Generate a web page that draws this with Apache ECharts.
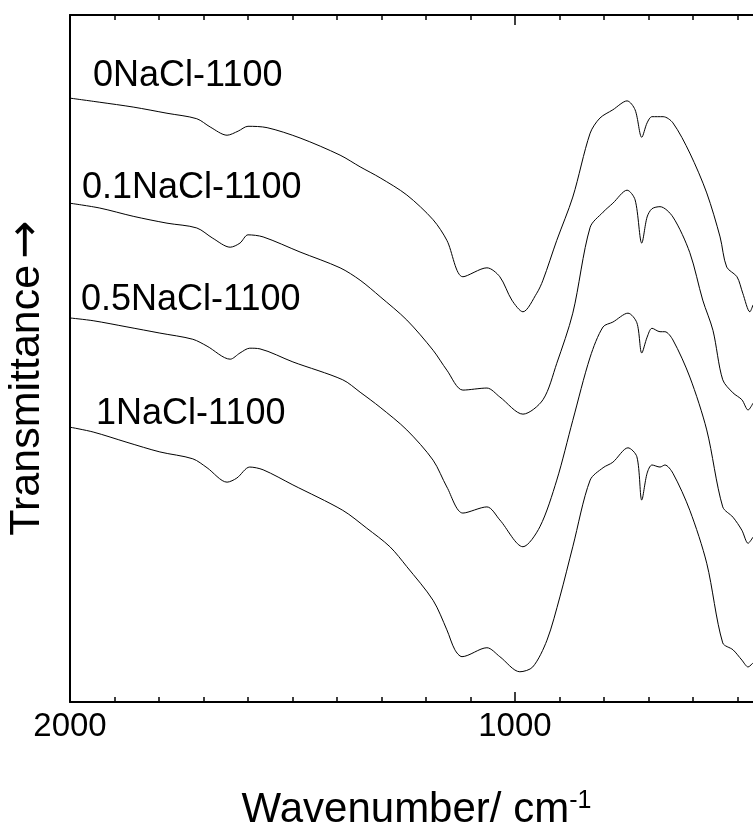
<!DOCTYPE html>
<html>
<head>
<meta charset="utf-8">
<title>FT-IR spectra</title>
<script src="https://cdn.jsdelivr.net/npm/echarts@6/dist/echarts.min.js"></script>
<style>
  html, body { margin: 0; padding: 0; background: #fff; }
  #chart { width: 753px; height: 833px; }
</style>
</head>
<body>
<div id="chart"></div>
<script>
// Sample names, drawn at the start of each spectrum
const sampleNames = ['0NaCl-1100', '0.1NaCl-1100', '0.5NaCl-1100', '1NaCl-1100'];

// Bottom-axis labels and tick positions (cm-1)
const tickLabels = [2000, 1000];
const tickValues = [2000, 1900, 1800, 1700, 1600, 1500, 1400, 1300, 1200, 1100, 1000, 900, 800, 700, 600, 500];
const majorTickValues = [1000];

// 0NaCl-1100: wavenumber (cm-1) and transmittance (offset, arb. units)
const wn0 = [2000, 1933, 1858, 1782, 1715, 1685, 1647, 1622, 1600, 1557, 1483, 1393, 1348, 1303, 1243, 1184, 1153, 1117, 1063, 1034, 1007, 982, 951, 937, 906, 870, 831, 809, 780, 748, 730, 715, 703, 692, 667, 645, 607, 569, 539, 524, 501, 488, 472, 465];
const tr0 = [87.9, 87.3, 86.6, 85.7, 84.9, 83.7, 82.5, 83.1, 83.8, 83.6, 82.1, 79.6, 77.9, 76.3, 73.8, 70.2, 67.2, 61.9, 63.2, 61.9, 58.5, 56.8, 59.5, 61.4, 67.2, 73.5, 82.8, 85.0, 86.2, 87.5, 86.2, 82.2, 84.3, 85.2, 85.2, 84.3, 79.9, 74.1, 67.7, 63.3, 61.9, 59.5, 56.8, 57.8];

// 0.1NaCl-1100
const wn1 = [2000, 1933, 1858, 1782, 1715, 1679, 1640, 1618, 1600, 1566, 1483, 1393, 1348, 1303, 1243, 1184, 1153, 1117, 1063, 1034, 982, 937, 906, 870, 831, 802, 780, 748, 730, 715, 703, 692, 674, 645, 607, 578, 555, 533, 510, 490, 476, 465];
const tr1 = [72.6, 71.9, 70.7, 69.7, 69.0, 67.5, 66.2, 66.8, 68.0, 67.7, 65.5, 63.2, 61.4, 59.0, 55.6, 51.2, 48.3, 45.4, 45.7, 44.4, 41.9, 44.0, 49.3, 56.6, 69.1, 71.3, 72.6, 74.5, 73.1, 66.8, 70.6, 71.8, 72.1, 70.6, 65.4, 58.5, 54.1, 46.9, 45.0, 44.0, 42.5, 43.5];

// 0.5NaCl-1100
const wn2 = [2000, 1948, 1872, 1798, 1724, 1692, 1640, 1618, 1596, 1573, 1499, 1387, 1348, 1303, 1243, 1184, 1153, 1117, 1063, 1034, 982, 944, 906, 870, 831, 802, 780, 746, 726, 715, 703, 692, 674, 663, 645, 607, 569, 533, 510, 490, 476, 465];
const tr2 = [55.9, 55.5, 54.6, 53.7, 52.8, 51.8, 49.9, 50.8, 51.5, 51.4, 49.5, 46.9, 45.1, 42.9, 39.6, 35.2, 31.3, 27.5, 28.4, 26.5, 22.6, 25.5, 32.3, 41.0, 50.2, 54.6, 55.3, 56.6, 55.2, 50.8, 53.1, 54.4, 53.9, 53.9, 52.7, 47.3, 39.6, 28.4, 26.9, 25.0, 23.1, 24.0];

// 1NaCl-1100
const wn3 = [2000, 1948, 1872, 1798, 1724, 1692, 1647, 1625, 1596, 1566, 1499, 1387, 1333, 1281, 1243, 1184, 1153, 1135, 1119, 1063, 1034, 989, 960, 928, 899, 870, 831, 802, 780, 746, 726, 715, 703, 692, 674, 663, 645, 607, 569, 533, 510, 490, 476, 465];
const tr3 = [40.0, 39.3, 37.8, 36.4, 35.4, 34.1, 32.0, 32.6, 34.2, 33.8, 31.6, 27.9, 25.3, 22.6, 19.7, 14.8, 10.5, 7.6, 6.6, 7.9, 6.6, 4.4, 5.1, 9.0, 15.3, 22.6, 32.3, 34.1, 34.9, 37.0, 35.7, 29.4, 33.3, 34.5, 34.2, 34.5, 33.3, 27.9, 20.2, 8.6, 7.6, 6.1, 5.1, 5.7];

const spectra = [[wn0, tr0], [wn1, tr1], [wn2, tr2], [wn3, tr3]];

const FONT = '"Liberation Sans", Arial, Helvetica, sans-serif';
const BLACK = '#000';

const chart = echarts.init(document.getElementById('chart'), null, { renderer: 'canvas' });

function zip(xs, ys) {
  return xs.map((x, i) => [x, ys[i]]);
}

// Shared settings for the frame axes (wavenumber runs right-to-left,
// the frame is cut at the right edge of the page)
const baseX = {
  type: 'value',
  gridIndex: 0,
  min: 465,
  max: 2000,
  inverse: true,
  splitLine: { show: false }
};

const minorTicks = {
  show: true,
  inside: true,
  length: 5,
  customValues: tickValues,
  lineStyle: { color: BLACK, width: 1.5 }
};

const majorTicks = {
  show: true,
  inside: true,
  length: 10,
  customValues: majorTickValues,
  lineStyle: { color: BLACK, width: 1.5 }
};

const option = {
  animation: false,
  backgroundColor: '#fff',
  grid: {
    left: 70,
    top: 15,
    right: 0,
    height: 687,
    containLabel: false,
    outerBoundsMode: 'none'
  },
  xAxis: [
    Object.assign({}, baseX, {
      position: 'bottom',
      axisLine: { show: true, onZero: false, lineStyle: { color: BLACK, width: 2 } },
      axisTick: minorTicks,
      axisLabel: {
        show: true,
        margin: 8,
        color: BLACK,
        fontSize: 33,
        fontFamily: FONT,
        customValues: tickLabels,
        showMinLabel: true,
        showMaxLabel: true,
        hideOverlap: false,
        formatter: v => String(v)
      },
      name: 'Wavenumber/ cm{sup|-1}',
      nameLocation: 'middle',
      nameGap: 87,
      nameTextStyle: {
        color: BLACK,
        fontSize: 42,
        fontFamily: FONT,
        padding: [0, 0, 0, 10],
        rich: {
          sup: { fontSize: 25, fontFamily: FONT, color: BLACK, verticalAlign: 'top' }
        }
      }
    }),
    Object.assign({}, baseX, {
      position: 'bottom',
      axisLine: { show: false, onZero: false },
      axisTick: majorTicks,
      axisLabel: { show: false }
    }),
    Object.assign({}, baseX, {
      position: 'top',
      axisLine: { show: true, onZero: false, lineStyle: { color: BLACK, width: 2 } },
      axisTick: minorTicks,
      axisLabel: { show: false }
    }),
    Object.assign({}, baseX, {
      position: 'top',
      axisLine: { show: false, onZero: false },
      axisTick: majorTicks,
      axisLabel: { show: false }
    })
  ],
  yAxis: {
    type: 'value',
    min: 0,
    max: 100,
    position: 'left',
    axisLine: { show: true, onZero: false, lineStyle: { color: BLACK, width: 2 } },
    axisTick: { show: false },
    axisLabel: { show: false },
    splitLine: { show: false },
    name: 'Transmittance{arr|\u2192}',
    nameLocation: 'middle',
    nameRotate: 90,
    nameGap: 20,
    nameTextStyle: {
      color: BLACK,
      fontSize: 43,
      fontFamily: FONT,
      padding: [0, 39, 0, 0],
      rich: {
        arr: { fontSize: 46, fontFamily: '"DejaVu Sans"', color: BLACK, padding: [0, 0, 0, 6] }
      }
    }
  },
  series: spectra.map((s, i) => ({
    name: sampleNames[i],
    type: 'line',
    xAxisIndex: 0,
    yAxisIndex: 0,
    data: zip(s[0], s[1]),
    showSymbol: false,
    smooth: 0.3,
    lineStyle: { color: BLACK, width: 1 },
    emphasis: { disabled: true }
  })),
  graphic: [
    { name: sampleNames[0], x: 93, y: 76 },
    { name: sampleNames[1], x: 82, y: 188 },
    { name: sampleNames[2], x: 81, y: 300 },
    { name: sampleNames[3], x: 96, y: 414 }
  ].map(p => ({
    type: 'text',
    x: p.x,
    y: p.y,
    silent: true,
    style: {
      text: p.name,
      fill: BLACK,
      font: '36px ' + FONT,
      align: 'left',
      verticalAlign: 'middle'
    }
  }))
};

chart.setOption(option);
</script>
</body>
</html>
